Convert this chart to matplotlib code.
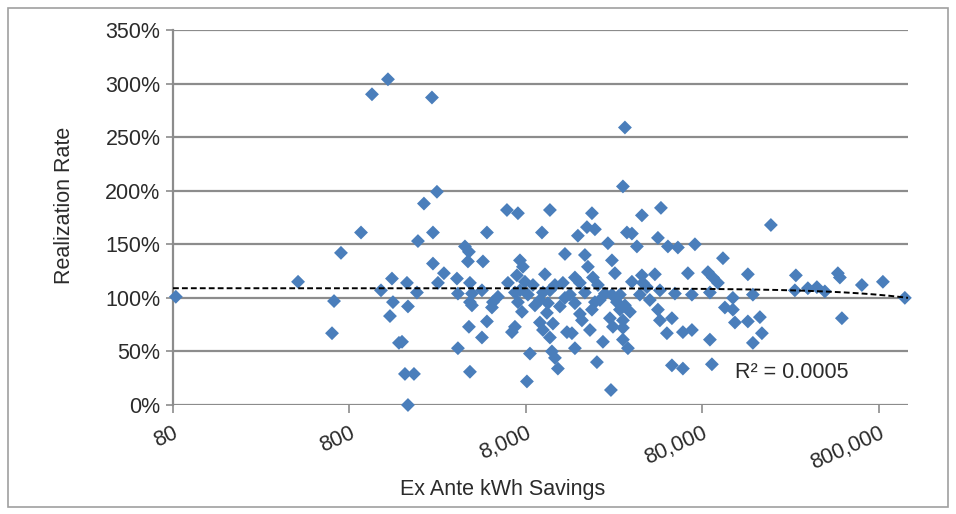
import numpy as np
import matplotlib
matplotlib.use("Agg")
import matplotlib.pyplot as plt
from matplotlib.ticker import FixedLocator, FuncFormatter, NullLocator
from matplotlib.patches import Rectangle

# ---- data ----
savings_kwh = [
    83, 409, 654, 637, 716, 930, 1073, 1322, 1207, 1393, 1411, 1357, 1526,
    1650, 1856, 1716, 1694, 1716, 1930, 1955, 2114, 2505, 2347, 2378, 2378,
    2744, 2538, 3252, 3294, 3610, 3803, 3754, 4566, 4810, 3853, 3955, 4506,
    3853, 3955, 3803, 4810, 4506, 3294, 3853, 1588, 5201, 5552, 5134,
    6244, 7207, 10940, 18930, 17730, 19680, 15760, 9860, 23320, 13310, 17270,
    7400, 7690, 17960, 10250, 6326, 7896, 8768, 11680, 12960, 15160, 16180,
    19170, 20470, 6930, 9990, 14210, 22420, 7207, 9600, 10660, 12460, 15160,
    19680, 7595, 10520, 16180, 18930, 9600, 11380, 16610, 6930, 6665, 9990,
    13660, 14580, 18440, 10940, 21850, 15160, 8430, 11230, 11680, 12140, 20200,
    8105, 24250, 24570,
    8210, 10940, 13310, 17270, 21000, 9000, 27270, 40300, 35380, 7400, 7110,
    29110, 28360, 36330, 46570, 29880, 31890, 34040, 44780, 51010, 58110, 72570,
    25550, 36330, 43050, 66220, 86000, 31890, 36810, 38780, 45960, 55890, 69760,
    88240, 24570, 26220, 29110, 27270, 31070, 23940, 28360, 44780, 45960, 53740,
    24900, 28360, 50350, 62030, 69760, 88240, 28360, 30270, 53740, 62030, 90560,
    195500, 104600, 91800, 97950, 144800, 119100, 154600, 107300, 119100, 122300,
    144800, 169400, 173900, 154600, 270900, 267400, 316800, 356300, 395500,
    468600, 481000, 640800, 843200, 493800, 1123000,
]
realization_pct = [
    101, 115, 97, 67, 142, 161, 290, 304, 107, 118, 96, 83, 58,
    29, 29, 0, 114, 92, 105, 153, 188, 199, 287, 161, 132,
    123, 114, 118, 104, 148, 143, 134, 134, 161, 114, 104, 107,
    96, 93, 73, 78, 63, 53, 31, 59, 96, 101, 91,
    182, 179, 182, 179, 166, 164, 158, 161, 151, 141, 140,
    135, 129, 129, 122, 114, 115, 112, 112, 114, 119, 114,
    119, 112, 105, 105, 103, 104, 96, 98, 95, 92, 95,
    96, 87, 86, 85, 89, 77, 76, 79, 73, 68, 70,
    68, 67, 70, 63, 59, 53, 48, 50, 44, 34, 40,
    22, 14, 135,
    103, 107, 100, 105, 98, 93, 103, 98, 103, 107, 121,
    259, 204, 177, 184, 161, 160, 148, 156, 148, 147, 150,
    123, 121, 122, 123, 124, 115, 114, 110, 107, 104, 103,
    105, 103, 96, 93, 89, 87, 81, 79, 89, 79, 81,
    73, 72, 67, 68, 70, 61, 61, 53, 37, 34, 38,
    168, 137, 119, 114, 122, 100, 103, 91, 89, 77,
    78, 82, 67, 58, 121, 107, 109, 110, 106,
    123, 119, 112, 115, 81, 100,
]
x_ticks = [80, 800, 8000, 80000, 800000]
x_tick_labels = ["80", "800", "8,000", "80,000", "800,000"]
y_ticks = [0, 50, 100, 150, 200, 250, 300, 350]
x_limits = [80, 1170000]
trend_intercept_pct = 109.0      # linear trendline
trend_slope_pct_per_kwh = -7.7e-6
r2_label = "R\u00b2 = 0.0005"

# ---- figure ----
W, H = 956, 514
fig = plt.figure(figsize=(W / 100, H / 100), dpi=100)
plt.rcParams['font.family'] = ['Liberation Sans', 'DejaVu Sans']
txt_color = "#2b2b2b"
grid_color = "#8c8c8c"
fs = 15.5

ax = fig.add_axes([173 / W, 1 - 405 / H, (908 - 173) / W, (405 - 30) / H])
ax.set_xscale("log")
ax.set_xlim(*x_limits)
ax.set_ylim(0, 350)

for y in y_ticks:
    ax.axhline(y, color=grid_color, lw=1.6, zorder=1)

ax.scatter(savings_kwh, realization_pct, marker="D", s=50, color="#4a7ebb",
           edgecolors="none", zorder=3, clip_on=False)

xt = np.logspace(np.log10(x_limits[0]), np.log10(x_limits[1]), 300)
ax.plot(xt, trend_intercept_pct + trend_slope_pct_per_kwh * xt, color="black",
        lw=1.4, dashes=(3.0, 1.6), zorder=4)

ax.xaxis.set_major_locator(FixedLocator(x_ticks))
ax.xaxis.set_minor_locator(NullLocator())
ax.set_xticklabels(x_tick_labels)
ax.yaxis.set_major_locator(FixedLocator(y_ticks))
ax.yaxis.set_major_formatter(FuncFormatter(lambda v, p: f"{v:.0f}%"))

for s in ["top", "right", "bottom"]:
    ax.spines[s].set_visible(False)
ax.spines["left"].set_color(grid_color)
ax.spines["left"].set_linewidth(1.6)

ax.tick_params(axis="y", length=5, width=1.2, color=grid_color, labelsize=fs,
               labelcolor=txt_color, pad=4)
ax.tick_params(axis="x", length=6, width=1.2, color=grid_color, labelsize=fs,
               labelcolor=txt_color, pad=7)
for lab in ax.get_xticklabels():
    lab.set_rotation(24)
    lab.set_rotation_mode("anchor")
    lab.set_ha("right")
    lab.set_va("top")

ax.set_ylabel("Realization Rate", fontsize=fs, color=txt_color)
ax.yaxis.set_label_coords((75 - 173) / 735, (405 - 205) / 375)
fig.text(503 / W, 1 - 490 / H, "Ex Ante kWh Savings", fontsize=fs,
         color=txt_color, ha="center", va="center")
fig.text(735 / W, 1 - 372 / H, r2_label, fontsize=fs, color=txt_color,
         ha="left", va="center")

fig.patches.append(Rectangle((8 / W, 1 - 507 / H), (948 - 8) / W, (507 - 8) / H,
                             transform=fig.transFigure, fill=False,
                             edgecolor="#a0a0a0", lw=1.2))

fig.savefig("out.png", dpi=100)
